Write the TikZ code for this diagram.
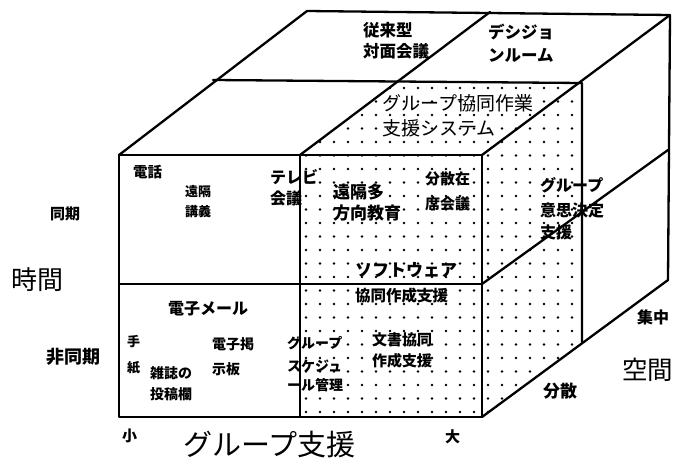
\documentclass[tikz,border=0pt]{standalone}
\usepackage{fontspec}
\newfontfamily\jp{Noto Sans CJK JP}
\begin{document}
\begin{tikzpicture}[x=1pt,y=-1pt,
  edge/.style={line width=2.3pt,line join=round,line cap=round},
  lab/.style={inner sep=0pt,anchor=north west,align=left},
  fs/.style={font=\jp\bfseries\fontsize{#1}{#1}\selectfont},
  ax/.style={inner sep=0pt,anchor=north west,font=\jp\fontsize{#1}{#1}\selectfont}]
\useasboundingbox[fill=white] (0,0) rectangle (674,463);
% corner coordinates
\coordinate (FTL) at (119,155);
\coordinate (FTM) at (300,155);
\coordinate (FTR) at (482,155);
\coordinate (FML) at (119,284);
\coordinate (FMR) at (482,284);
\coordinate (FBL) at (119,417);
\coordinate (FBM) at (300,417);
\coordinate (FBR) at (482,417);
\coordinate (BTL) at (307,11);
\coordinate (BTM) at (490,12);
\coordinate (BTR) at (670,15);
\coordinate (BMR) at (668,150);
\coordinate (BBR) at (668,280);
\coordinate (MTL) at (213,80);
\coordinate (MTM) at (396,82);
\coordinate (MTR) at (582,83);
\coordinate (MBR) at (582,342);
% dotted region
\begin{scope}
\clip (FTM) -- (MTM) -- (MTR) -- (MBR) -- (FBR) -- (FBM) -- cycle;
\foreach \x in {306,320,...,590}
  \foreach \y in {88,101.5,...,416}
    \fill (\x,\y) circle (1.4);
\end{scope}
% edges
\draw[edge] (FTL) rectangle (FBR);
\draw[edge] (FML) -- (FMR);
\draw[edge] (FTM) -- (FBM);
\draw[edge] (FTL) -- (BTL) -- (BTR) -- (BBR) -- (FBR);
\draw[edge] (FTR) -- (BTR);
\draw[edge] (MTL) -- (MTR) -- (MBR);
\draw[edge] (FTM) -- (BTM);
\draw[edge] (FMR) -- (BMR);
% labels in cells
\node[lab,fs=16.5] (t1) at (363,22) {従来型\\[5pt]対面会議};
\node[lab,fs=16.5] (t2) at (488,24) {デシジョ\\[6pt]ンルーム};
\node[lab,font=\jp\fontsize{19}{19}\selectfont] (t3) at (382,94) {グループ協同作業\\[6pt]支援システム};
\node[lab,fs=14.5] (t4) at (133,165) {電話};
\node[lab,fs=13] (t5) at (185,185) {遠隔\\[7pt]講義};
\node[lab,fs=16] (t6) at (270,169) {テレビ\\[5pt]会議};
\node[lab,fs=17] (t7) at (333,184) {遠隔多\\[4pt]方向教育};
\node[lab,fs=15] (t8) at (425,171) {分散在\\[10pt]席会議};
\node[lab,fs=16] (t9) at (540,177) {グループ\\[9pt]意思決定\\[6pt]支援};
\node[lab,fs=17] (t10) at (355,262) {ソフトウェア};
\node[lab,fs=15.5] (t11) at (355,288) {協同作成支援};
\node[lab,fs=16] (t12) at (168,301) {電子メール};
\node[lab,fs=13] (t13) at (127,335) {手\\[13pt]紙};
\node[lab,fs=14] (t14) at (150,366) {雑誌の\\[7pt]投稿欄};
\node[lab,fs=14] (t15) at (212,337) {電子掲\\[11pt]示板};
\node[lab,fs=14] (t16) at (287,336) {グループ\\[9pt]スケジュ\\[5pt]ール管理};
\node[lab,fs=15] (t17) at (372,332) {文書協同\\[6pt]作成支援};
% axis labels
\node[lab,fs=15] (s1) at (122,429) {小};
\node[ax=29] (s2) at (183,431) {グループ支援};
\node[lab,fs=15] (s3) at (445,429) {大};
\node[lab,fs=17] (s4) at (543,383) {分散};
\node[lab,fs=16] (s5) at (637,310) {集中};
\node[ax=25.5] (s6) at (622,358) {空間};
\node[lab,fs=15] (s7) at (50,207) {同期};
\node[ax=26] (s8) at (11,267) {時間};
\node[lab,fs=18] (s9) at (46,348) {非同期};
\end{tikzpicture}
\end{document}
